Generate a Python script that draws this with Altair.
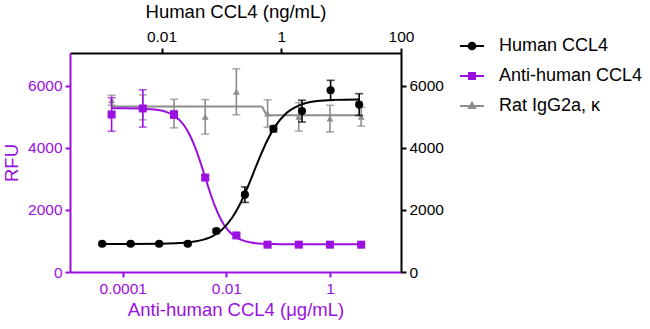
import altair as alt
import pandas as pd

PURPLE = "#9B10E0"
GREY = "#8C8C8C"
BLACK = "#000000"
FONT = "Liberation Sans"

# ---------------- data ----------------
# Human CCL4 (ng/mL) -> top axis / right axis
human_conc = [0.00102, 0.00305, 0.00914, 0.0274, 0.0823, 0.247, 0.741, 2.22, 6.67, 20]
human_rfu = [910, 910, 910, 910, 1320, 2490, 4610, 5180, 5850, 5390]
human_err = [40, 40, 40, 40, 60, 250, 100, 350, 320, 350]
human_fit_conc = [0.00102, 0.003, 0.01, 0.02, 0.04, 0.07, 0.1, 0.15, 0.2, 0.3, 0.4,
                  0.6, 0.8, 1.2, 2, 4, 8, 20]
human_fit_rfu = [905, 905, 913, 932, 997, 1148, 1347, 1737, 2151, 2911, 3511,
                 4280, 4703, 5104, 5365, 5504, 5541, 5555]

# Anti-human CCL4 (ug/mL) -> bottom axis / left axis
anti_conc = [6.1e-5, 2.44e-4, 9.77e-4, 3.91e-3, 0.0156, 0.0625, 0.25, 1, 4]
anti_rfu = [5070, 5265, 5070, 3040, 1177, 880, 880, 880, 880]
anti_err = [540, 600, 120, 80, 60, 30, 30, 30, 30]
anti_fit_conc = [6.1e-5, 1e-4, 2e-4, 4e-4, 7e-4, 1e-3, 1.5e-3, 2e-3, 2.5e-3, 3e-3, 4e-3,
                 5e-3, 6e-3, 8e-3, 0.01, 0.015, 0.02, 0.03, 0.05, 0.1, 0.3, 1, 4]
anti_fit_rfu = [5270, 5270, 5261, 5232, 5151, 5026, 4739, 4387, 4010, 3641, 2992,
                2494, 2128, 1666, 1410, 1128, 1024, 948, 910, 897, 890, 890, 890]

# Rat IgG2a, kappa (ug/mL) -> bottom axis / left axis
rat_conc = [6.1e-5, 2.44e-4, 9.77e-4, 3.91e-3, 0.0156, 0.0625, 0.25, 1, 4]
rat_rfu = [5530, 5300, 5100, 4995, 5800, 5100, 4995, 4940, 4995]
rat_err = [160, 400, 460, 555, 740, 440, 460, 430, 300]
rat_fit_conc = [6.1e-5, 0.046, 0.05, 0.054, 0.059, 0.064, 4]
rat_fit_rfu = [5330, 5330, 5300, 5180, 5080, 5045, 5045]

series_names = ["Human CCL4", "Anti-human CCL4", "Rat IgG2a, κ"]
series_colors = [BLACK, PURPLE, GREY]
legend_shapes = [
    "M-1,0H1M0.28,0A0.28,0.28,0,1,1,-0.28,0A0.28,0.28,0,1,1,0.28,0Z",
    "M-1,0H1M-0.25,-0.25H0.25V0.25H-0.25Z",
    "M-1,0H1M0,-0.26L0.24,0.17H-0.24Z",
]


def pts(conc, rfu, err=None):
    d = {"conc": conc, "rfu": rfu}
    if err is not None:
        d["lo"] = [v - e for v, e in zip(rfu, err)]
        d["hi"] = [v + e for v, e in zip(rfu, err)]
    return pd.DataFrame(d)


df_h = pts(human_conc, human_rfu, human_err)
df_hf = pts(human_fit_conc, human_fit_rfu)
df_a = pts(anti_conc, anti_rfu, anti_err)
df_af = pts(anti_fit_conc, anti_fit_rfu)
df_r = pts(rat_conc, rat_rfu, rat_err)
df_rf = pts(rat_fit_conc, rat_fit_rfu)
df_leg = pd.DataFrame({"series": series_names})

# ---------------- scales & axes ----------------
xb_scale = alt.Scale(type="log", domain=[9.6e-6, 23.5], nice=False)
xt_scale = alt.Scale(type="log", domain=[2.96e-4, 100], nice=False)
y_scale = alt.Scale(domain=[0, 7050], nice=False, zero=False)

xb_axis = alt.Axis(orient="bottom", values=[0.0001, 0.01, 1], format="~g",
                   title="Anti-human CCL4 (μg/mL)", domainColor=PURPLE, tickColor=PURPLE,
                   labelColor=PURPLE, titleColor=PURPLE, labelPadding=4, titlePadding=4)
xt_axis = alt.Axis(orient="top", values=[0.01, 1, 100], format="~g",
                   title="Human CCL4 (ng/mL)", domainColor=BLACK, tickColor=BLACK,
                   labelColor=BLACK, titleColor=BLACK, labelPadding=4, titlePadding=8)
yl_axis = alt.Axis(orient="left", values=[0, 2000, 4000, 6000], format="d", title="RFU",
                   domainColor=PURPLE, tickColor=PURPLE, labelColor=PURPLE,
                   titleColor=PURPLE, labelPadding=3, titlePadding=6)
yr_axis = alt.Axis(orient="right", values=[0, 2000, 4000, 6000], format="d", title=None,
                   domainColor=BLACK, tickColor=BLACK, labelColor=BLACK, labelPadding=3)


def xb(f="conc"):
    return alt.X(f"{f}:Q", scale=xb_scale, axis=xb_axis)


def xt(f="conc"):
    return alt.X(f"{f}:Q", scale=xt_scale, axis=xt_axis)


def yl(f):
    return alt.Y(f"{f}:Q", scale=y_scale, axis=yl_axis)


def yr(f):
    return alt.Y(f"{f}:Q", scale=y_scale, axis=yr_axis)


def series_layers(df, dfit, color, shape, size, xf, yf):
    fit = alt.Chart(dfit).mark_line(color=color, strokeWidth=2, interpolate="monotone").encode(
        x=xf(), y=yf("rfu"))
    bar = alt.Chart(df).mark_rule(color=color, strokeWidth=1.6).encode(
        x=xf(), y=yf("lo"), y2="hi:Q")
    cap_lo = alt.Chart(df).mark_tick(color=color, orient="horizontal", size=8, thickness=1.6).encode(
        x=xf(), y=yf("lo"))
    cap_hi = alt.Chart(df).mark_tick(color=color, orient="horizontal", size=8, thickness=1.6).encode(
        x=xf(), y=yf("hi"))
    point = alt.Chart(df).mark_point(color=color, filled=True, opacity=1, shape=shape, size=size).encode(
        x=xf(), y=yf("rfu"))
    return [fit, bar, cap_lo, cap_hi, point]


legend_layer = alt.Chart(df_leg).mark_point(filled=True, opacity=0).encode(
    fill=alt.Fill("series:N", scale=alt.Scale(domain=series_names, range=series_colors),
                  legend=alt.Legend(title=None)),
    stroke=alt.Stroke("series:N", scale=alt.Scale(domain=series_names, range=series_colors),
                      legend=alt.Legend(title=None)),
    shape=alt.Shape("series:N", scale=alt.Scale(domain=series_names, range=legend_shapes),
                    legend=alt.Legend(title=None)),
)

layer_a = alt.layer(
    *series_layers(df_r, df_rf, GREY, "triangle-up", 48, xb, yl),
    *series_layers(df_a, df_af, PURPLE, "square", 64, xb, yl),
    legend_layer,
)
layer_b = alt.layer(*series_layers(df_h, df_hf, BLACK, "circle", 66, xt, yr))

chart = alt.layer(layer_a, layer_b).resolve_scale(
    x="independent", y="independent"
).properties(
    width=331, height=219,
    autosize=alt.AutoSizeParams(type="none"),
    padding={"left": 70, "top": 53, "right": 249, "bottom": 57},
).configure_view(stroke=None).configure_axis(
    grid=False, labelFont=FONT, titleFont=FONT, labelFontSize=15.5, titleFontSize=18.5,
    titleFontWeight="normal", domainWidth=2, tickWidth=2, tickSize=5,
    labelOverlap=False, labelFlush=False,
).configure_legend(
    orient="none", legendX=389, legendY=-20, labelFont=FONT, labelFontSize=18,
    labelColor=BLACK, symbolSize=576, symbolStrokeWidth=2, labelOffset=14,
    rowPadding=8, padding=0, symbolOpacity=1, labelLimit=300,
)

chart.save("out.html", embed_options={"renderer": "svg", "actions": False})
